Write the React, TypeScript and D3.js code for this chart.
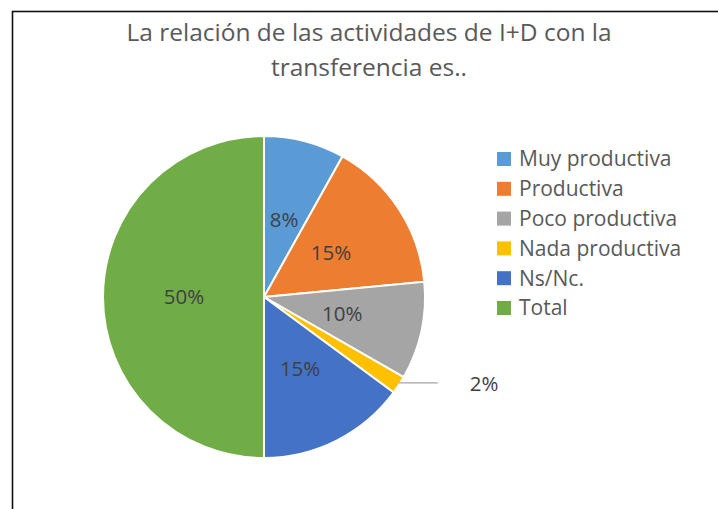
import React, { useEffect, useRef } from 'react'
import * as d3 from 'd3'

const TITLE_LINES = ['La relación de las actividades de I+D con la', 'transferencia es..']
const CATEGORIES = ['Muy productiva', 'Productiva', 'Poco productiva', 'Nada productiva', 'Ns/Nc.', 'Total']
const VALUES = [8.1, 15.4, 9.8, 1.8, 14.9, 50]
const COLORS = ['#5B9BD5', '#ED7D31', '#A5A5A5', '#FFC000', '#4472C4', '#70AD47']
const OUTSIDE_LABELS = ['Nada productiva'] // labels placed outside with a leader line

const W = 718
const H = 509
const FONT = '"Open Sans", Lato, sans-serif'

export default function App() {
  const svgRef = useRef<SVGSVGElement | null>(null)

  useEffect(() => {
    if (!svgRef.current) return
    const svg = d3.select(svgRef.current)
    svg.selectAll('*').remove()

    svg.append('rect').attr('width', W).attr('height', H).attr('fill', '#fff')

    // chart frame (cropped on right and bottom)
    svg.append('rect')
      .attr('x', 12.5).attr('y', 11.5)
      .attr('width', 800).attr('height', 600)
      .attr('fill', 'none').attr('stroke', '#111').attr('stroke-width', 1.6)

    // Title
    TITLE_LINES.forEach((t, i) => {
      svg.append('text')
        .attr('x', 369).attr('y', 41 + i * 35)
        .attr('text-anchor', 'middle')
        .attr('fill', '#595959').attr('font-size', 24.5).attr('font-family', FONT)
        .text(t)
    })

    const cx = 264, cy = 297, r = 161
    const total = d3.sum(VALUES)
    const data = CATEGORIES.map((c, i) => ({ cat: c, value: VALUES[i], color: COLORS[i] }))
    const pie = d3.pie<typeof data[0]>().value(d => d.value).sort(null)
    const arcs = pie(data)
    const arc = d3.arc<d3.PieArcDatum<typeof data[0]>>().innerRadius(0).outerRadius(r)
    const labelArc = d3.arc<d3.PieArcDatum<typeof data[0]>>().innerRadius(80).outerRadius(80)
    const outerArc = d3.arc<d3.PieArcDatum<typeof data[0]>>().innerRadius(r).outerRadius(r)

    const g = svg.append('g').attr('transform', `translate(${cx},${cy})`)

    g.selectAll('path.slice')
      .data(arcs)
      .join('path').attr('class', 'slice')
      .attr('d', arc)
      .attr('fill', d => d.data.color)
      .attr('stroke', '#fff').attr('stroke-width', 2)

    const pct = (v: number) => `${Math.round((v / total) * 100)}%`

    arcs.forEach(a => {
      if (OUTSIDE_LABELS.includes(a.data.cat)) {
        const [ox, oy] = outerArc.centroid(a)
        g.append('line')
          .attr('x1', ox).attr('y1', oy - 2)
          .attr('x2', ox + 39).attr('y2', oy - 2)
          .attr('stroke', '#a6a6a6').attr('stroke-width', 1.3)
        g.append('text')
          .attr('x', ox + 71).attr('y', oy + 6)
          .attr('fill', '#404040').attr('font-size', 20.5).attr('font-family', FONT)
          .text(pct(a.data.value))
      } else {
        const [lx, ly] = labelArc.centroid(a)
        g.append('text')
          .attr('x', lx).attr('y', ly)
          .attr('dy', '0.35em')
          .attr('text-anchor', 'middle')
          .attr('fill', '#404040').attr('font-size', 20.5).attr('font-family', FONT)
          .text(pct(a.data.value))
      }
    })

    // Legend
    const lg = svg.append('g').attr('transform', 'translate(497,152)')
    data.forEach((d, i) => {
      lg.append('rect')
        .attr('x', 0).attr('y', i * 29.8)
        .attr('width', 14).attr('height', 14)
        .attr('fill', d.color)
      lg.append('text')
        .attr('x', 22).attr('y', i * 29.8 + 7)
        .attr('dy', '0.35em')
        .attr('fill', '#595959').attr('font-size', 21).attr('font-family', FONT)
        .text(d.cat)
    })
  }, [])

  return (
    <svg
      ref={svgRef}
      width={W}
      height={H}
      style={{ position: 'absolute', left: 0, top: 0, display: 'block' }}
    />
  )
}
